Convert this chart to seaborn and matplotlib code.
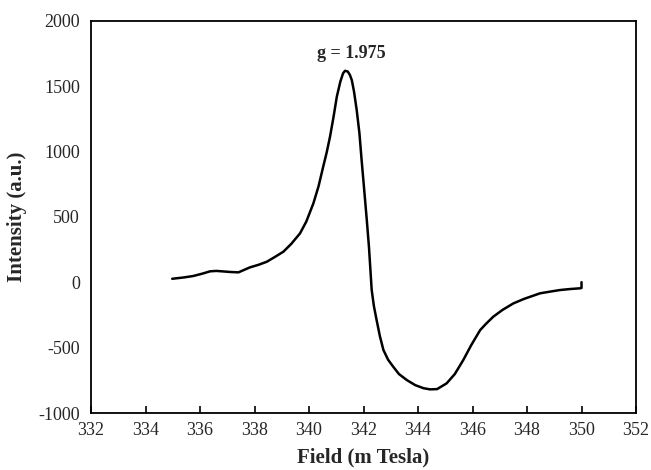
import numpy as np
import pandas as pd
import matplotlib.pyplot as plt
import seaborn as sns

field = [334.98, 335.4, 335.75, 336.1, 336.37, 336.6, 336.8, 337.1, 337.41, 337.83,
         338.15, 338.45, 338.75, 339.06, 339.35, 339.67, 339.9, 340.16, 340.35,
         340.52, 340.65, 340.77, 340.9, 341.02, 341.15, 341.25, 341.32, 341.42, 341.5,
         341.57, 341.65, 341.75, 341.85, 341.93, 342.02, 342.12, 342.2, 342.3, 342.38,
         342.48, 342.6, 342.73, 342.9, 343.09, 343.3, 343.59, 343.9, 344.2, 344.44,
         344.7, 345.05, 345.35, 345.66, 345.95, 346.28, 346.5, 346.76, 347.1, 347.5,
         347.9, 348.48, 348.85, 349.21, 349.6, 349.94, 350.0, 350.0]
intensity = [28, 38, 49, 68, 85, 88, 85, 80, 77, 115,
             135, 158, 195, 235, 295, 375, 465, 604, 735,
             884, 995, 1113, 1265, 1419, 1535, 1598, 1617, 1612, 1585,
             1546, 1460, 1317, 1140, 935, 720, 477, 270, -58, -180,
             -287, -410, -516, -590, -644, -700, -746, -785, -808, -817,
             -815, -771, -700, -593, -480, -364, -315, -262, -210, -160,
             -125, -83, -70, -58, -50, -45, -42, 2]

df = pd.DataFrame({'Field': field, 'Intensity': intensity})

sns.set_style('white')
plt.rcParams['font.family'] = ['Liberation Serif', 'DejaVu Serif']
plt.rcParams['axes.unicode_minus'] = False

fig = plt.figure(figsize=(6.51, 4.70), dpi=100)
ax = fig.add_axes([0.1398, 0.1206, 0.8372, 0.8354])

sns.lineplot(data=df, x='Field', y='Intensity', sort=False, estimator=None,
             color='black', linewidth=1.8, ax=ax)

ax.set_xlim(332, 352)
ax.set_ylim(-1000, 2000)
ax.set_xticks(np.arange(332, 353, 2))
ax.set_yticks(np.arange(-1000, 2001, 500))
ax.tick_params(axis='x', bottom=True, direction='in', length=5, width=1.2,
               labelsize=13, pad=6, color='black')
ax.tick_params(axis='y', length=0, labelsize=13, pad=8)
for s in ax.spines.values():
    s.set_color('black')
    s.set_linewidth(1.3)

ax.set_xlabel('Field (m Tesla)', fontsize=15, fontweight='bold', labelpad=6)
ax.set_ylabel('Intensity (a.u.)', fontsize=15, fontweight='bold', labelpad=8)
ax.text(341.55, 1750, 'g = 1.975', ha='center', va='center', fontsize=13, fontweight='bold')

fig.savefig('out.png', dpi=100)
